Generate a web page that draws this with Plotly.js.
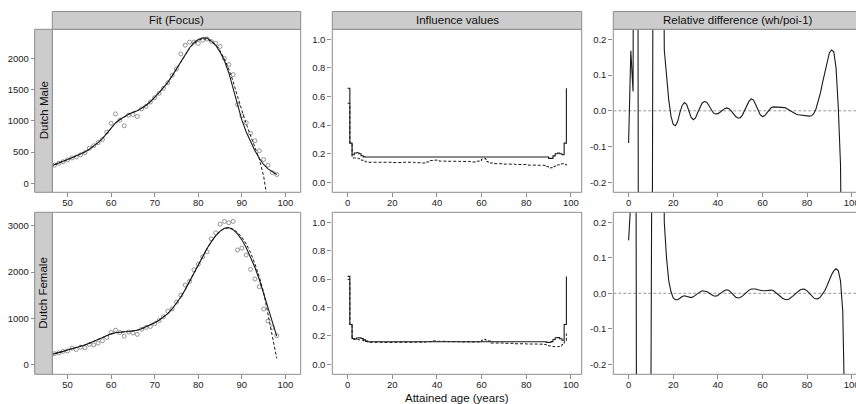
<!DOCTYPE html>
<html>
<head>
<meta charset="utf-8">
<script src="https://cdn.plot.ly/plotly-3.0.1.min.js"></script>
<style>
html,body{margin:0;padding:0;overflow:hidden;background:#fff;width:856px;height:404px;}
#plot{width:880px;height:404px;}
</style>
</head>
<body>
<div id="plot"></div>
<script>
// ---------------- DATA ----------------
const stripTop = ["Fit (Focus)", "Influence values", "Relative difference (wh/poi-1)"];
const stripLeft = ["Dutch Male", "Dutch Female"];
const xTitle = "Attained age (years)";

// Fit panel: ages for fitted curves and observed points
const ageFit = [46,47,48,49,50,51,52,53,54,55,56,57,58,59,60,61,62,63,64,65,66,67,68,69,70,71,72,73,74,75,76,77,78,79,80,81,82,83,84,85,86,87,88,89,90,91,92,93,94,95,96,97,98];
const ageObs = [47,48,49,50,51,52,53,54,55,56,57,58,59,60,61,62,63,64,65,66,67,68,69,70,71,72,73,74,75,76,77,78,79,80,81,82,83,84,85,86,87,88,89,90,91,92,93,94,95,96,97,98];

const maleObs = [290,320,345,375,405,420,455,490,560,600,650,700,820,960,1110,1010,920,1090,1100,1070,1190,1230,1300,1370,1440,1520,1610,1730,1830,2070,2210,2260,2260,2240,2290,2310,2270,2240,2190,2000,1900,1740,1260,1080,970,800,680,520,380,290,170,140];
const maleFitWH = [270,295,320,350,380,410,440,465,500,545,595,650,715,800,890,965,1020,1065,1105,1135,1160,1200,1245,1305,1370,1450,1530,1615,1720,1830,1955,2070,2170,2250,2300,2330,2325,2275,2210,2100,1960,1770,1520,1260,1010,820,660,520,400,300,230,180,140];
const maleFitPoi = [268,293,318,348,378,408,438,466,502,547,597,652,716,798,885,962,1018,1064,1104,1135,1162,1202,1248,1308,1372,1450,1530,1615,1718,1828,1950,2062,2160,2240,2290,2310,2310,2270,2220,2120,1990,1830,1630,1390,1150,950,760,580,390,110,-250,-700,-1200];

const femaleObs = [230,250,280,290,350,320,370,360,430,420,460,510,580,690,740,690,610,700,680,650,760,800,820,880,950,1030,1150,1200,1350,1500,1720,1800,2050,2170,2330,2440,2720,2850,3040,3100,3070,3100,2480,2520,2370,2060,1850,1680,1200,940,800,620];
const femaleFitWH = [205,225,250,280,310,335,365,395,420,455,495,540,585,625,660,685,700,705,710,720,740,770,810,850,900,955,1020,1100,1200,1320,1460,1620,1800,1980,2160,2340,2510,2660,2790,2890,2950,2965,2920,2830,2700,2530,2330,2100,1840,1540,1210,890,610];
const femaleFitPoi = [207,227,252,281,310,336,366,396,422,457,497,541,585,624,658,683,698,704,710,721,742,772,812,852,902,957,1022,1102,1202,1322,1462,1622,1800,1978,2158,2338,2506,2656,2786,2886,2946,2960,2930,2860,2760,2610,2420,2180,1900,1560,1100,620,130];

// Influence values (step functions, breakpoints)
const inflMaleAgeA = [0,1,2,3,4,5,6,7,8,89,90,91,92,93,94,95,96,97,98];
const inflMaleA    = [0.658,0.274,0.193,0.205,0.207,0.200,0.186,0.178,0.177,0.177,0.167,0.167,0.185,0.200,0.205,0.200,0.193,0.274,0.658];
const inflMaleAgeB = [0,1,2,3,4,5,6,7,8,9,15,20,25,30,33,35,37,39,41,45,50,55,58,60,61,62,63,65,70,75,80,85,88,89,90,91,92,93,94,95,96,97,98];
const inflMaleB    = [0.553,0.274,0.170,0.170,0.168,0.165,0.155,0.148,0.143,0.140,0.140,0.138,0.140,0.137,0.135,0.142,0.152,0.155,0.148,0.147,0.146,0.142,0.148,0.163,0.165,0.145,0.135,0.130,0.127,0.124,0.120,0.119,0.118,0.110,0.100,0.102,0.110,0.118,0.122,0.128,0.130,0.125,0.117];

const inflFemaleAgeA = [0,1,2,3,4,5,6,7,8,9,89,90,91,92,93,94,95,96,97,98];
const inflFemaleA    = [0.619,0.280,0.182,0.178,0.185,0.187,0.182,0.172,0.162,0.159,0.155,0.154,0.160,0.175,0.187,0.188,0.180,0.170,0.280,0.619];
const inflFemaleAgeB = [0,1,2,3,5,7,9,15,20,30,35,38,40,45,50,55,58,60,61,62,64,70,75,80,85,88,89,90,92,94,95,96,97,98];
const inflFemaleB    = [0.598,0.280,0.178,0.175,0.172,0.165,0.155,0.154,0.155,0.156,0.160,0.165,0.162,0.160,0.158,0.157,0.158,0.170,0.175,0.165,0.150,0.148,0.145,0.143,0.142,0.140,0.135,0.130,0.125,0.125,0.130,0.140,0.160,0.217];

// Relative difference (wh/poi - 1)
const ageRel = [0,1,2,3,4,5,6,7,8,9,10,11,12,13,14,15,16,17,18,19,20,21,22,23,24,25,26,27,28,29,30,31,32,33,34,35,36,37,38,39,40,41,42,43,44,45,46,47,48,49,50,51,52,53,54,55,56,57,58,59,60,61,62,63,64,65,66,67,68,69,70,71,72,73,74,75,76,77,78,79,80,81,82,83,84,85,86,87,88,89,90,91,92,93,94,95,96,97,98];
const relMale = [-0.09,0.168,0.054,2.5,1.2,-3,-5,-6,-5,-4,-2,0.6,2,3,2.5,1.2,0.17,0.09,0.03,-0.015,-0.038,-0.042,-0.03,-0.005,0.015,0.023,0.018,0.0,-0.018,-0.025,-0.02,-0.005,0.01,0.022,0.026,0.024,0.015,0.003,-0.006,-0.009,-0.008,-0.004,0.002,0.006,0.008,0.006,0.0,-0.008,-0.016,-0.02,-0.02,-0.012,0.0,0.015,0.027,0.033,0.03,0.017,0.0,-0.011,-0.016,-0.014,-0.006,0.003,0.009,0.011,0.011,0.011,0.011,0.01,0.009,0.006,0.002,-0.002,-0.006,-0.009,-0.011,-0.012,-0.012,-0.013,-0.014,-0.015,-0.014,-0.008,0.005,0.025,0.05,0.08,0.11,0.14,0.162,0.17,0.165,0.12,0.01,-0.15,-0.5,-1.2,-2];
const relFemale = [0.149,0.26,1.5,1.5,-2,-5,-6,-6,-5,-3,-0.3,1.5,3,3,2,0.9,0.2,0.1,0.035,0.005,-0.013,-0.018,-0.018,-0.014,-0.009,-0.007,-0.009,-0.012,-0.012,-0.01,-0.005,0.0,0.004,0.007,0.007,0.005,0.001,-0.004,-0.007,-0.008,-0.006,-0.001,0.004,0.008,0.01,0.008,0.002,-0.005,-0.011,-0.013,-0.012,-0.008,-0.002,0.004,0.009,0.012,0.013,0.012,0.01,0.008,0.007,0.007,0.008,0.009,0.009,0.007,0.002,-0.004,-0.01,-0.014,-0.017,-0.018,-0.016,-0.012,-0.006,0.0,0.006,0.01,0.012,0.011,0.007,0.0,-0.007,-0.013,-0.016,-0.015,-0.01,-0.002,0.008,0.022,0.038,0.052,0.063,0.069,0.064,0.035,-0.05,-0.25,-0.7];

// Tick values
const fitXTicks = [50,60,70,80,90,100];
const maleYTicks = [0,500,1000,1500,2000];
const femaleYTicks = [0,1000,2000,3000];
const ageTicks = [0,20,40,60,80,100];
const inflTicks = [0,0.2,0.4,0.6,0.8,1.0];
const relTicks = [-0.2,-0.1,0,0.1,0.2];

// ---------------- LAYOUT ----------------
const W = 880, H = 404;
const px = v => v / W;
const py = v => 1 - v / H;
const cols = [[52.3,300.7],[332.3,581.7],[613.3,862.5]];
const rows = [[29.3,192.3],[212.3,374.3]];
const stripL = [34.7,52.3];
const FONT = "Liberation Sans, Arial, Helvetica, sans-serif";
const LINEC = "#8c8c8c";
const INK = "#1a1a1a";
const TICKFONT = {family:FONT,size:9.5,color:"#222"};

function axX(col, anchor, range, ticks, fmt) {
  return {domain:[px(cols[col][0]), px(cols[col][1])], anchor:anchor, range:range,
    tickvals:ticks, ticktext: ticks.map(fmt), showline:false,
    ticks:"outside", ticklen:4, tickcolor:LINEC, tickwidth:1, showgrid:false, zeroline:false,
    ticklabelstandoff:-3, tickfont:TICKFONT, fixedrange:true};
}
function axY(row, anchor, range, ticks, fmt, pos) {
  const a = {domain:[py(rows[row][1]), py(rows[row][0])], anchor:anchor, range:range,
    tickvals:ticks, ticktext: ticks.map(fmt), showline:false,
    ticks:"outside", ticklen:4, tickcolor:LINEC, tickwidth:1, showgrid:false, zeroline:false,
    tickfont:TICKFONT, fixedrange:true};
  if (pos !== undefined) { a.anchor = "free"; a.position = pos; }
  return a;
}
const fInt = v => String(v);
const f1 = v => v.toFixed(1);

const fitRange = [46.5,103.5];
const ageRange = [-6.86,104.86];
const inflRange = [-0.07,1.07];
const relRange = [-0.228,0.228];

const solid = {color:INK,width:1.1};
const dashed = {color:INK,width:1,dash:"3px,2px"};
const ptMarker = {symbol:"circle-open",size:4,color:"#7a7a7a",line:{width:0.8,color:"#7a7a7a"}};

const traces = [
  // Row 1 (Male)
  {x:ageObs,y:maleObs,xaxis:"x",yaxis:"y",mode:"markers",marker:ptMarker,type:"scatter"},
  {x:ageFit,y:maleFitPoi,xaxis:"x",yaxis:"y",mode:"lines",line:dashed,type:"scatter"},
  {x:ageFit,y:maleFitWH,xaxis:"x",yaxis:"y",mode:"lines",line:solid,type:"scatter"},
  {x:inflMaleAgeB,y:inflMaleB,xaxis:"x2",yaxis:"y2",mode:"lines",line:Object.assign({shape:"hv"},dashed),type:"scatter"},
  {x:inflMaleAgeA,y:inflMaleA,xaxis:"x2",yaxis:"y2",mode:"lines",line:Object.assign({shape:"hv"},solid),type:"scatter"},
  {x:ageRel,y:relMale,xaxis:"x3",yaxis:"y3",mode:"lines",line:solid,type:"scatter"},
  // Row 2 (Female)
  {x:ageObs,y:femaleObs,xaxis:"x4",yaxis:"y4",mode:"markers",marker:ptMarker,type:"scatter"},
  {x:ageFit,y:femaleFitPoi,xaxis:"x4",yaxis:"y4",mode:"lines",line:dashed,type:"scatter"},
  {x:ageFit,y:femaleFitWH,xaxis:"x4",yaxis:"y4",mode:"lines",line:solid,type:"scatter"},
  {x:inflFemaleAgeB,y:inflFemaleB,xaxis:"x5",yaxis:"y5",mode:"lines",line:Object.assign({shape:"hv"},dashed),type:"scatter"},
  {x:inflFemaleAgeA,y:inflFemaleA,xaxis:"x5",yaxis:"y5",mode:"lines",line:Object.assign({shape:"hv"},solid),type:"scatter"},
  {x:ageRel,y:relFemale,xaxis:"x6",yaxis:"y6",mode:"lines",line:solid,type:"scatter"}
];

const shapes = [];
const annotations = [];
// panel borders
["","2","3","4","5","6"].forEach(k => {
  shapes.push({type:"rect",xref:"x"+k+" domain",yref:"y"+k+" domain",x0:0,x1:1,y0:0,y1:1,
    line:{color:LINEC,width:1},fillcolor:"rgba(0,0,0,0)",layer:"above"});
});
// top strips
cols.forEach((c,i) => {
  shapes.push({type:"rect",xref:"paper",yref:"paper",x0:px(c[0]),x1:px(c[1]),y0:py(29.3),y1:py(11.5),
    fillcolor:"#cccccc",line:{color:LINEC,width:1},layer:"above"});
  annotations.push({xref:"paper",yref:"paper",x:px((c[0]+c[1])/2),y:py(20.4),text:stripTop[i],showarrow:false,
    xanchor:"center",yanchor:"middle",font:{family:FONT,size:11.5,color:"#111"}});
});
// left strips
rows.forEach((r,i) => {
  shapes.push({type:"rect",xref:"paper",yref:"paper",x0:px(stripL[0]),x1:px(stripL[1]),y0:py(r[1]),y1:py(r[0]),
    fillcolor:"#cccccc",line:{color:LINEC,width:1},layer:"above"});
  annotations.push({xref:"paper",yref:"paper",x:px((stripL[0]+stripL[1])/2),y:py((r[0]+r[1])/2),text:stripLeft[i],showarrow:false,
    textangle:-90,xanchor:"center",yanchor:"middle",font:{family:FONT,size:11.5,color:"#111"}});
});
// zero reference lines in relative-difference panels
["3","6"].forEach(k => {
  shapes.push({type:"line",xref:"x"+k+" domain",yref:"y"+k,x0:0,x1:1,y0:0,y1:0,
    line:{color:"#8c8c8c",width:0.9,dash:"3px,2px"},layer:"below"});
});
annotations.push({xref:"paper",yref:"paper",x:px(457),y:py(397.5),text:xTitle,showarrow:false,
  xanchor:"center",yanchor:"middle",font:{family:FONT,size:11.5,color:"#111"}});

const layout = {
  width:W, height:H, margin:{l:0,r:0,t:0,b:0}, showlegend:false,
  paper_bgcolor:"#fff", plot_bgcolor:"#fff", font:{family:FONT},
  xaxis: axX(0,"y",fitRange,fitXTicks,fInt),
  yaxis: axY(0,"x",[-145,2465],maleYTicks,fInt,px(stripL[0])),
  xaxis2: axX(1,"y2",ageRange,ageTicks,fInt),
  yaxis2: axY(0,"x2",inflRange,inflTicks,f1),
  xaxis3: axX(2,"y3",ageRange,ageTicks,fInt),
  yaxis3: axY(0,"x3",relRange,relTicks,f1),
  xaxis4: axX(0,"y4",fitRange,fitXTicks,fInt),
  yaxis4: axY(1,"x4",[-217,3297],femaleYTicks,fInt,px(stripL[0])),
  xaxis5: axX(1,"y5",ageRange,ageTicks,fInt),
  yaxis5: axY(1,"x5",inflRange,inflTicks,f1),
  xaxis6: axX(2,"y6",ageRange,ageTicks,fInt),
  yaxis6: axY(1,"x6",relRange,relTicks,f1),
  shapes: shapes, annotations: annotations
};

Plotly.newPlot("plot", traces, layout, {displayModeBar:false, staticPlot:true});
</script>
</body>
</html>
